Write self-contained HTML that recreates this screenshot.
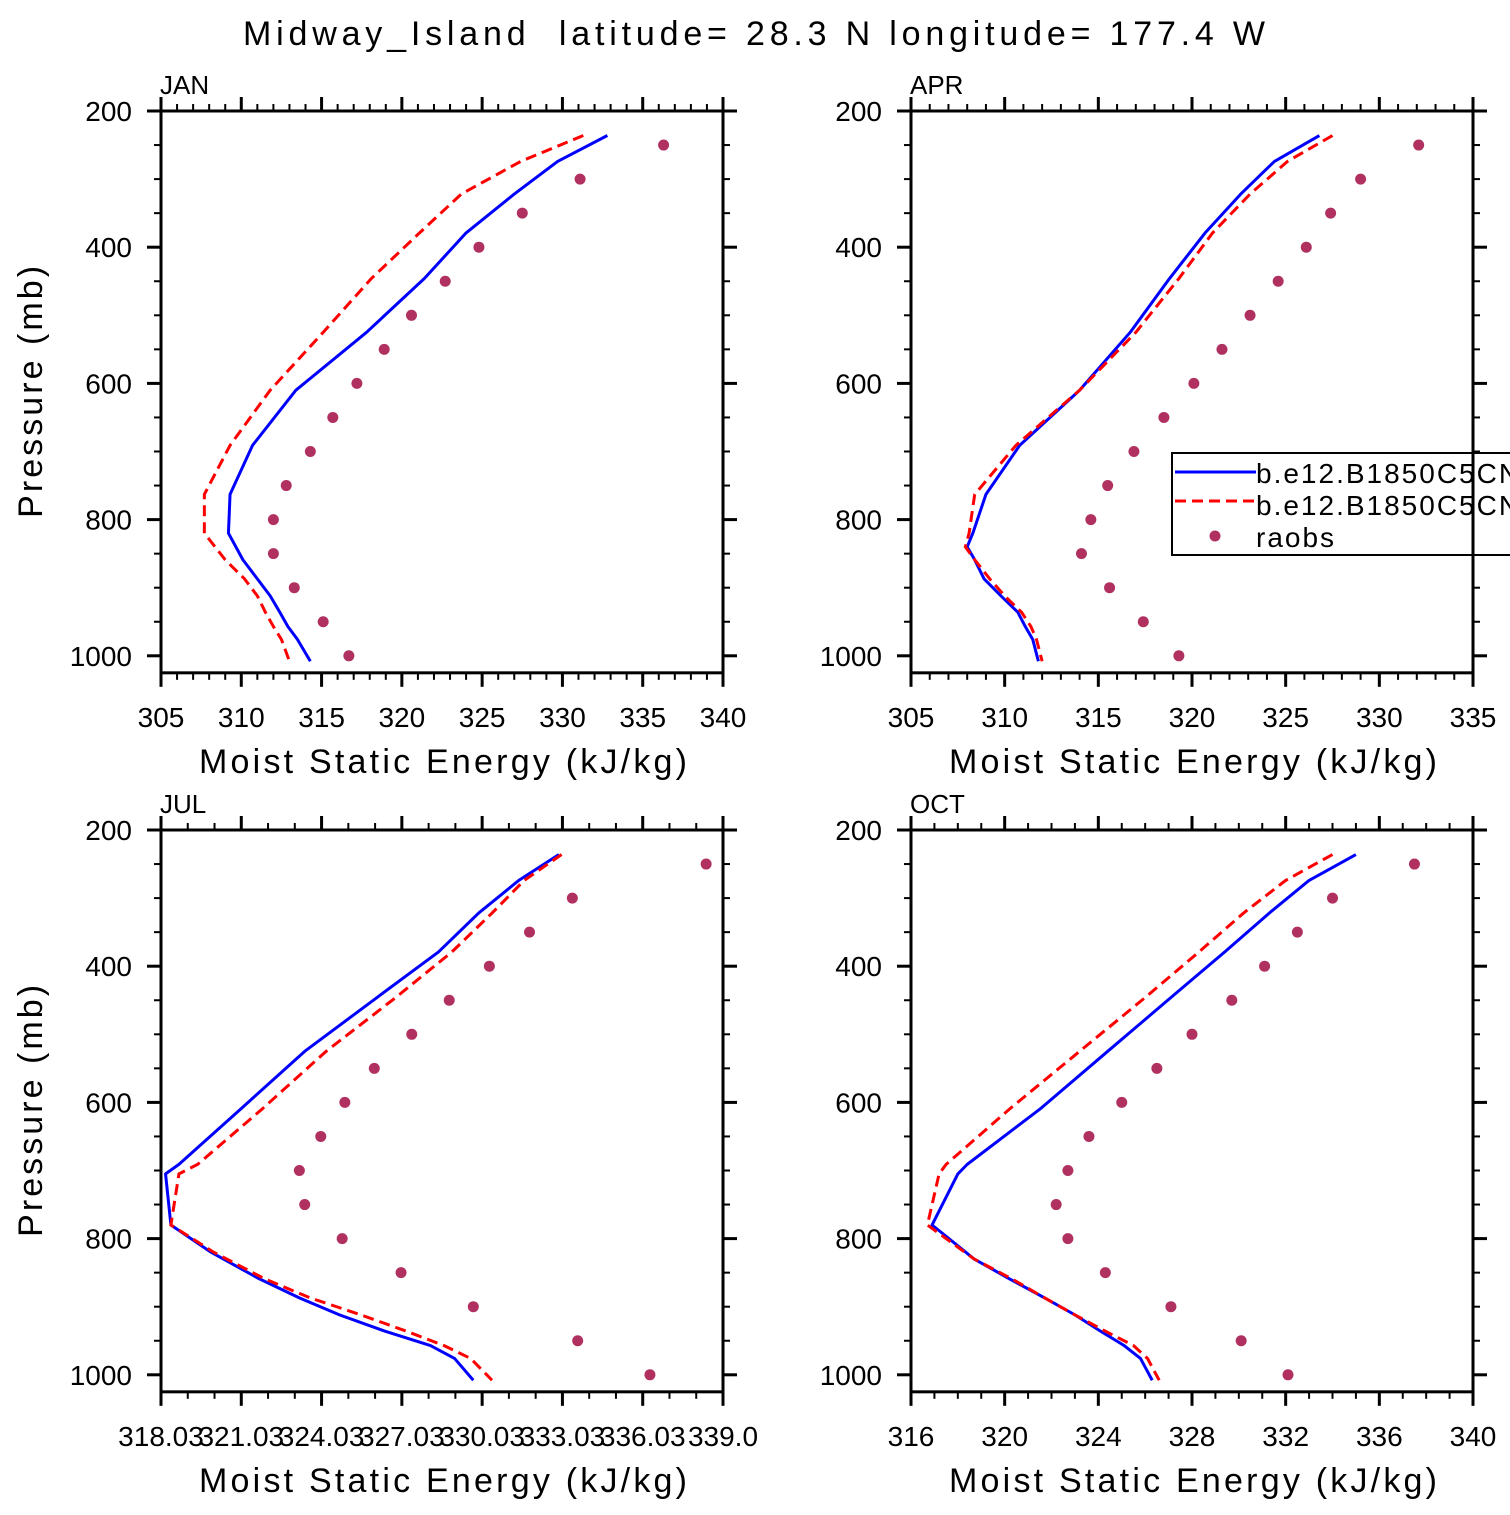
<!DOCTYPE html>
<html><head><meta charset="utf-8">
<style>
html,body{margin:0;padding:0;background:#fff;}
svg text{font-family:"Liberation Sans","DejaVu Sans",sans-serif;fill:#000;}
</style></head>
<body>
<svg id="chart" width="1510" height="1510" viewBox="0 0 1510 1510" xmlns="http://www.w3.org/2000/svg">
<text x="243" y="45" font-size="34" textLength="1022" lengthAdjust="spacing" xml:space="preserve">Midway_Island  latitude= 28.3 N longitude= 177.4 W</text>
</svg>
<script>
// ---- data ----
const modelLevels = [236,274,322,379,446,525,610,691,763,820,859,887,912,936,957,976,1008];
const obsLevels = [250,300,350,400,450,500,550,600,650,700,750,800,850,900,950,1000];
const janBlue = [332.8,329.7,327.0,324.0,321.4,317.8,313.4,310.7,309.3,309.2,310.1,311.0,311.8,312.4,312.9,313.5,314.3];
const janRed  = [331.3,327.4,323.7,321.1,318.1,315.1,311.8,309.3,307.7,307.7,309.0,310.2,311.0,311.5,312.0,312.5,313.0];
const janObs  = [336.3,331.1,327.5,324.8,322.7,320.6,318.9,317.2,315.7,314.3,312.8,312.0,312.0,313.3,315.1,316.7];
const aprLevels = [236,274,322,379,446,525,610,691,763,820,840,859,887,912,936,957,976,1008];
const aprBlue = [326.8,324.4,322.6,320.7,318.8,316.7,314.0,310.8,309.0,308.3,308.0,308.4,308.9,309.8,310.7,311.1,311.5,311.8];
const aprRed  = [327.5,325.1,323.1,321.1,319.3,317.0,314.0,310.6,308.4,308.1,307.9,308.4,309.2,310.0,310.9,311.4,311.7,312.0];
const aprObs  = [332.1,329.0,327.4,326.1,324.6,323.1,321.6,320.1,318.5,316.9,315.5,314.6,314.1,315.6,317.4,319.3];
const julLevels = [236,274,322,379,446,525,610,691,705,780,820,859,887,912,936,957,976,1008];
const julBlue = [332.9,331.4,329.9,328.4,326.1,323.4,321.0,318.7,318.2,318.4,319.9,321.7,323.2,324.7,326.4,328.1,329.0,329.7];
const julRed  = [333.0,331.6,330.4,328.9,326.8,324.2,321.8,319.4,318.7,318.4,320.0,321.9,323.6,325.5,327.2,328.6,329.6,330.4];
const julObs  = [338.4,333.4,331.8,330.3,328.8,327.4,326.0,324.9,324.0,323.2,323.4,324.8,327.0,329.7,333.6,336.3];
const octLevels = [236,274,322,379,446,525,610,691,705,780,830,859,887,912,936,957,976,1008];
const octBlue = [335.0,333.0,331.3,329.4,327.1,324.4,321.5,318.4,318.0,316.9,318.7,320.2,321.7,323.0,324.1,325.1,325.8,326.3];
const octRed  = [334.0,332.0,330.2,328.3,326.0,323.2,320.2,317.5,317.2,316.7,318.7,320.3,321.7,323.0,324.3,325.5,326.1,326.6];
const octObs  = [337.5,334.0,332.5,331.1,329.7,328.0,326.5,325.0,323.6,322.7,322.2,322.7,324.3,327.1,330.1,332.1];
const yTicks = [200,400,600,800,1000];
const janXTicks = [305,310,315,320,325,330,335,340];
const aprXTicks = [305,310,315,320,325,330,335];
const julXTicks = [318.03,321.03,324.03,327.03,330.03,333.03,336.03,339.03];
const julXLabels = ["318.03","321.03","324.03","327.03","330.03","333.03","336.03","339.0"];
const octXTicks = [316,320,324,328,332,336,340];

const NS="http://www.w3.org/2000/svg";
const svg=document.getElementById('chart');
function mk(tag,attrs,parent){const e=document.createElementNS(NS,tag);for(const k in attrs)e.setAttribute(k,attrs[k]);(parent||svg).appendChild(e);return e;}

const panels=[
 {key:'jan',label:'JAN',x0:161,x1:723,y0:111,xmin:305,xmax:340,minor:1,ticks:janXTicks,labels:null,lev:modelLevels,blue:janBlue,red:janRed,obs:janObs},
 {key:'apr',label:'APR',x0:911,x1:1473,y0:111,xmin:305,xmax:335,minor:1,ticks:aprXTicks,labels:null,lev:aprLevels,blue:aprBlue,red:aprRed,obs:aprObs,legend:true},
 {key:'jul',label:'JUL',x0:161,x1:723,y0:830,xmin:318.03,xmax:339.03,minor:1,ticks:julXTicks,labels:julXLabels,lev:julLevels,blue:julBlue,red:julRed,obs:julObs},
 {key:'oct',label:'OCT',x0:911,x1:1473,y0:830,xmin:316,xmax:340,minor:1,ticks:octXTicks,labels:null,lev:octLevels,blue:octBlue,red:octRed,obs:octObs}
];
const PXMB=0.681;
panels.forEach(p=>{
  const g=mk('g',{});
  
  
  const yb=p.y0+825*PXMB;
  const X=v=>p.x0+(v-p.xmin)/(p.xmax-p.xmin)*(p.x1-p.x0);
  const Y=v=>p.y0+(v-200)*PXMB;
  const cid='clip-'+p.key;
  const cp=mk('clipPath',{id:cid},g);mk('rect',{x:p.x0,y:p.y0,width:p.x1-p.x0,height:yb-p.y0},cp);
  const blue=mk('polyline',{points:p.blue.map((v,i)=>X(v)+','+Y(p.lev[i])).join(' '),fill:'none',stroke:'#0000ff','stroke-width':3,'stroke-linejoin':'round','clip-path':'url(#'+cid+')'},g);
  
  
  const red=mk('polyline',{points:p.red.map((v,i)=>X(v)+','+Y(p.lev[i])).join(' '),fill:'none',stroke:'#ff0000','stroke-width':3,'stroke-dasharray':'11,6','clip-path':'url(#'+cid+')'},g);
  
  
  p.obs.forEach((v,i)=>{
    const c=mk('circle',{cx:X(v),cy:Y(obsLevels[i]),r:5.5,fill:'#b03060'},g);
    
    
  });
  const fr=mk('rect',{x:p.x0,y:p.y0,width:p.x1-p.x0,height:yb-p.y0,fill:'none',stroke:'#000','stroke-width':3},g);
  
  
  const xa=mk('g',{},g);
  
  
  for(let v=p.xmin;v<=p.xmax+1e-6;v+=p.minor){
    const x=X(v);
    const isMajor=p.ticks.some(t=>Math.abs(t-v)<1e-6);
    const L=isMajor?14:7;
    mk('line',{x1:x,x2:x,y1:yb,y2:yb+L,stroke:'#000','stroke-width':isMajor?3:2},xa);
    mk('line',{x1:x,x2:x,y1:p.y0,y2:p.y0-L,stroke:'#000','stroke-width':isMajor?3:2},xa);
  }
  p.ticks.forEach((t,i)=>{
    const tx=mk('text',{x:X(t),y:yb+54,'font-size':28,'text-anchor':'middle'},xa);
    tx.textContent=p.labels?p.labels[i]:String(t);
    
    
  });
  const ya=mk('g',{},g);
  
  
  for(let v=200;v<=1000;v+=50){
    const y=Y(v);const isMajor=v%200===0;const L=isMajor?14:7;
    mk('line',{x1:p.x0,x2:p.x0-L,y1:y,y2:y,stroke:'#000','stroke-width':isMajor?3:2},ya);
    mk('line',{x1:p.x1,x2:p.x1+L,y1:y,y2:y,stroke:'#000','stroke-width':isMajor?3:2},ya);
  }
  yTicks.forEach(t=>{
    const tx=mk('text',{x:p.x0-29,y:Y(t)+10,'font-size':28,'text-anchor':'end'},ya);
    tx.textContent=String(t);
    
    
  });
  const lab=mk('text',{x:p.x0-1,y:p.y0-17,'font-size':26},g);
  lab.textContent=p.label;
  
  
  const xt=mk('text',{x:p.x0+38,y:yb+100,'font-size':34,textLength:488,lengthAdjust:'spacing'},g);
  xt.textContent='Moist Static Energy (kJ/kg)';
  
  
  if(p.x0<500){
    const cy=(p.y0+yb)/2;
    const yt=mk('text',{x:-126,y:0,'font-size':34,textLength:252,lengthAdjust:'spacing',transform:'translate(42,'+cy+') rotate(-90)'},g);
    yt.textContent='Pressure (mb)';
    
    
  }
  if(p.legend){
    const lg=mk('g',{},g);
    
    
    mk('rect',{x:1172,y:453,width:345,height:102,fill:'#fff',stroke:'#000','stroke-width':2},lg);
    mk('line',{x1:1175,x2:1256,y1:472,y2:472,stroke:'#0000ff','stroke-width':3},lg);
    mk('line',{x1:1175,x2:1256,y1:501,y2:501,stroke:'#ff0000','stroke-width':3,'stroke-dasharray':'11,6'},lg);
    mk('circle',{cx:1215,cy:536,r:5.5,fill:'#b03060'},lg);
    const names=['b.e12.B1850C5CN','b.e12.B1850C5CN','raobs'];
    names.forEach((n,i)=>{
      const t=mk('text',{x:1256,y:483+i*32,'font-size':28,'letter-spacing':2},lg);
      t.textContent=n;
      
      
    });
    mk('line',{x1:p.x1,x2:p.x1,y1:453,y2:555,stroke:'#000','stroke-width':3},lg);
  }
});
</script>
</body></html>
